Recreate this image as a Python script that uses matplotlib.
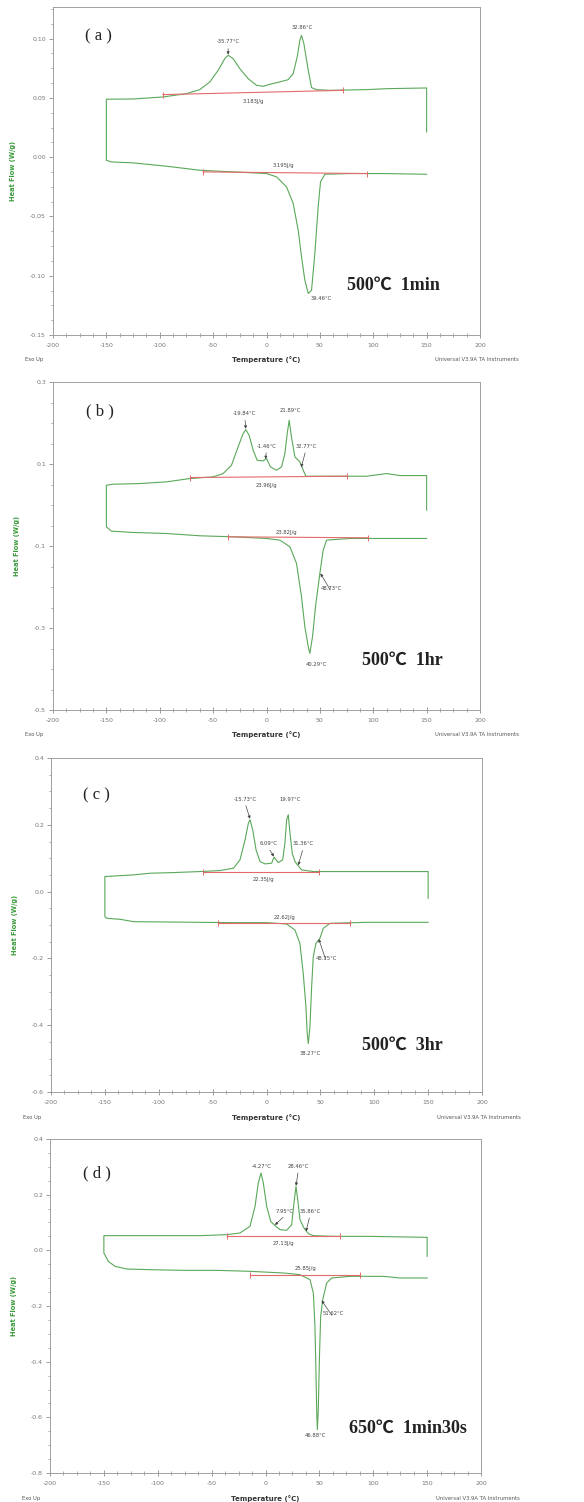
import numpy as np
import matplotlib
matplotlib.use("Agg")
import matplotlib.pyplot as plt
from matplotlib.ticker import MultipleLocator, AutoMinorLocator, FormatStrFormatter

plt.rcParams['font.family'] = ['DejaVu Sans', 'Noto Sans CJK SC']
plt.rcParams['axes.unicode_minus'] = False

# ---------------- DATA (temperature in C, heat flow in W/g) ----------------
# cooling trace, left to right, last point = bottom of the isothermal step at 150 C
a_cool_t = [-150, -125, -96.9, -75, -62.5, -53.1, -45.3, -39.1, -35.9, -31.25, -25, -17.2, -9.4, -3.1,
            3.1, 12.5, 20.3, 25, 28.75, 31.25, 32.8, 35, 39.1, 42.2, 46.9, 59.4, 93.75, 112.5, 150, 150]
a_cool_hf = [0.0489, 0.0491, 0.0508, 0.0536, 0.0570, 0.0635, 0.0733, 0.0831, 0.0860, 0.0831, 0.0747,
             0.0663, 0.0607, 0.0598, 0.0615, 0.0635, 0.0654, 0.0705, 0.0845, 0.0986, 0.1028, 0.0958,
             0.0733, 0.0587, 0.0570, 0.0564, 0.0570, 0.0578, 0.0584, 0.0213]
# heating trace, first point = bottom of the step at -150 C
a_heat_t = [-150, -145.3, -125, -93.75, -62.5, -31.25, 0, 9.4, 18.75, 25, 29.7, 32.8, 35.9, 39.1, 42.2,
            45.3, 48.4, 50.6, 54.7, 78.1, 109.4, 150]
a_heat_hf = [-0.0026, -0.004, -0.0048, -0.0076, -0.011, -0.0124, -0.0138, -0.0166, -0.025, -0.039,
             -0.0616, -0.084, -0.1037, -0.115, -0.1122, -0.0812, -0.0419, -0.0208, -0.0144, -0.0138,
             -0.0138, -0.0144]

b_cool_t = [-150, -143.75, -118.75, -93.75, -71.9, -50, -40.6, -32.8, -26.6, -21.9, -19.4, -16.25, -12.5,
            -8.75, -3.1, 0, 3.75, 9.4, 14.1, 17.2, 19.4, 21.25, 23.4, 26.6, 31.25, 34.4, 36.9, 62.5,
            93.75, 112.5, 125, 150, 150]
b_cool_hf = [0.0482, 0.0507, 0.0523, 0.0564, 0.0645, 0.0686, 0.0767, 0.097, 0.1417, 0.1741, 0.1839,
             0.1701, 0.1335, 0.1092, 0.1076, 0.1132, 0.0929, 0.0848, 0.0929, 0.1254, 0.1741, 0.2066,
             0.166, 0.1173, 0.1051, 0.0848, 0.0702, 0.0702, 0.0702, 0.0767, 0.0718, 0.0718, -0.0126]
b_heat_t = [-150, -145.3, -125, -93.75, -62.5, -31.25, 0, 12.5, 21.9, 28.1, 32.8, 35.9, 39.1, 40.6,
            43.1, 46.25, 50, 53.1, 56.25, 78.1, 109.4, 150]
b_heat_hf = [-0.0532, -0.0638, -0.067, -0.0695, -0.0751, -0.0776, -0.0816, -0.0857, -0.1019, -0.1425,
             -0.2237, -0.2968, -0.3455, -0.3618, -0.3212, -0.24, -0.1669, -0.11, -0.0857, -0.0816,
             -0.0816, -0.0816]

c_cool_t = [-150, -123.4, -108, -86.3, -61.6, -43.1, -30.7, -24.6, -19.9, -16.8, -15.3, -12.8, -9.7, -6.0,
            -1.4, 4.8, 6.9, 11.0, 15.0, 17.1, 18.7, 20.2, 21.8, 23.9, 26.4, 29.5, 32.6, 43.4, 61.9, 150, 150]
c_cool_hf = [0.045, 0.05, 0.055, 0.057, 0.06, 0.063, 0.07, 0.095, 0.155, 0.205, 0.215, 0.185, 0.125, 0.09,
             0.083, 0.085, 0.103, 0.087, 0.095, 0.145, 0.215, 0.23, 0.175, 0.115, 0.09, 0.077, 0.065,
             0.06, 0.06, 0.06, -0.02]
c_heat_t = [-150, -148.1, -135.8, -123.4, -92.5, -61.6, -30.7, 0.2, 18.7, 26.4, 31.0, 34.1, 36.6, 37.8,
            38.8, 40.3, 41.9, 43.4, 45.9, 49.6, 52.7, 58.8, 92.8, 150]
c_heat_hf = [-0.075, -0.08, -0.083, -0.09, -0.091, -0.092, -0.093, -0.093, -0.097, -0.115, -0.155, -0.245,
             -0.345, -0.425, -0.455, -0.405, -0.285, -0.195, -0.155, -0.14, -0.11, -0.095, -0.092, -0.092]

d_cool_t = [-150, -122.7, -91.7, -60.8, -36.0, -23.7, -14.4, -9.7, -6.7, -4.2, -2.0, 1.1, 4.8, 8.8, 13.5,
            19.6, 24.3, 26.4, 28.3, 29.9, 32.0, 35.7, 39.8, 44.4, 63.0, 93.9, 150, 150]
d_cool_hf = [0.0527, 0.0527, 0.0527, 0.0527, 0.0563, 0.0623, 0.0862, 0.1581, 0.2419, 0.2778, 0.2419,
             0.1581, 0.1042, 0.0886, 0.0743, 0.0719, 0.0922, 0.1701, 0.2299, 0.182, 0.1102, 0.0802,
             0.0599, 0.0527, 0.0503, 0.0503, 0.0467, -0.0216]
d_heat_t = [-150, -145.9, -139.7, -128.8, -107.2, -76.3, -45.3, -14.4, 16.6, 32.0, 41.3, 44.4, 45.9, 46.9,
            47.5, 48.1, 49.0, 50.0, 51.2, 53.1, 56.8, 61.4, 78.4, 109.4, 124.8, 150]
d_heat_hf = [-0.0096, -0.0395, -0.0575, -0.0671, -0.0695, -0.0719, -0.0719, -0.0754, -0.0814, -0.0874,
             -0.1054, -0.1533, -0.273, -0.4527, -0.5725, -0.6443, -0.5725, -0.3928, -0.2371, -0.1772,
             -0.1174, -0.0994, -0.0934, -0.0934, -0.0994, -0.0994]

# integration baselines: (t_start, hf_start, t_end, hf_end)
a_base = [(-96.9, 0.0528, 71.9, 0.0564), (-59.4, -0.0124, 93.75, -0.0138)]
b_base = [(-71.25, 0.067, 75, 0.0702), (-35.9, -0.0776, 95.3, -0.080)]
c_base = [(-58.5, 0.060, 49.0, 0.060), (-44.6, -0.093, 77.4, -0.093)]
d_base = [(-36.0, 0.0527, 69.1, 0.0527), (-14.4, -0.0874, 87.7, -0.0874)]

# annotations: text, text position, arrow target (or None)
a_notes = [("-35.77°C", (-36, 0.0972), (-35.9, 0.0865)), ("32.86°C", (33.4, 0.109), None),
           ("39.46°C", (51.6, -0.119), None),
           ("3.183J/g", (-12.5, 0.0466), None), ("3.195J/g", (15.6, -0.0068), None)]
b_notes = [("-19.84°C", (-20.3, 0.2229), (-19.4, 0.186)), ("-1.46°C", (0, 0.1433), (-0.9, 0.112)),
           ("21.89°C", (21.9, 0.231), None), ("32.77°C", (36.9, 0.1433), (32.5, 0.092)),
           ("40.29°C", (46.9, -0.39), None), ("48.73°C", (61, -0.2034), (50.6, -0.167)),
           ("23.96J/g", (0, 0.0483), None), ("23.82J/g", (18.75, -0.0678), None)]
c_notes = [("-15.73°C", (-19.9, 0.277), (-15.3, 0.218)), ("19.97°C", (21.8, 0.277), None),
           ("6.09°C", (1.7, 0.143), (6.9, 0.105)), ("31.36°C", (34.1, 0.143), (29.5, 0.079)),
           ("38.27°C", (40.3, -0.485), None), ("48.75°C", (55.8, -0.20), (48.5, -0.142)),
           ("22.35J/g", (-2.9, 0.035), None), ("22.62J/g", (17.1, -0.077), None)]
d_notes = [("-4.27°C", (-3.6, 0.3018), None), ("28.46°C", (30.5, 0.3018), (28.3, 0.232)),
           ("7.95°C", (18.1, 0.14), (8.8, 0.091)), ("35.86°C", (41.3, 0.14), (37.6, 0.068)),
           ("46.88°C", (46, -0.666), None), ("51.62°C", (63, -0.2275), (52.1, -0.18)),
           ("27.13J/g", (16.6, 0.0263), None), ("25.85J/g", (36.7, -0.067), None)]

panel_tags = ["( a )", "( b )", "( c )", "( d )"]
conditions = ["500℃  1min", "500℃  1hr", "500℃  3hr", "650℃  1min30s"]
y_ticks = [[0.10, 0.05, 0.00, -0.05, -0.10, -0.15],
           [0.3, 0.1, -0.1, -0.3, -0.5],
           [0.4, 0.2, 0.0, -0.2, -0.4, -0.6],
           [0.4, 0.2, 0.0, -0.2, -0.4, -0.6, -0.8]]
y_lims = [(-0.15, 0.1267), (-0.5, 0.3), (-0.6, 0.4), (-0.8, 0.4)]
y_fmt = ['%.2f', '%.1f', '%.1f', '%.1f']

# ---------------- LAYOUT ----------------
W, H = 584, 1502
boxes = [(53, 7, 480, 335), (53, 382, 480, 710), (51, 758, 482, 1092), (50, 1139, 481, 1473)]
tag_pos = [(0.106, 0.909), (0.110, 0.909), (0.106, 0.889), (0.108, 0.898)]
cond_pos = [(0.797, 0.152), (0.818, 0.152), (0.815, 0.141), (0.831, 0.135)]

green = "#5aa85a"
red = "#e36a6a"
grey = "#8a8a8a"

panels = [
    (a_cool_t, a_cool_hf, a_heat_t, a_heat_hf, a_base, a_notes),
    (b_cool_t, b_cool_hf, b_heat_t, b_heat_hf, b_base, b_notes),
    (c_cool_t, c_cool_hf, c_heat_t, c_heat_hf, c_base, c_notes),
    (d_cool_t, d_cool_hf, d_heat_t, d_heat_hf, d_base, d_notes),
]

fig = plt.figure(figsize=(W / 100, H / 100), dpi=100)
fig.patch.set_facecolor("white")

for i, (ct, chf, ht, hhf, bases, notes) in enumerate(panels):
    x0, y0, x1, y1 = boxes[i]
    ax = fig.add_axes([x0 / W, 1 - y1 / H, (x1 - x0) / W, (y1 - y0) / H])

    # one continuous trace: down the 150 C step, cooling leftwards, step at -150 C, heating rightwards
    t = list(ct[::-1]) + list(ht)
    hf = list(chf[::-1]) + list(hhf)
    ax.plot(t, hf, color=green, lw=0.8)

    for (ts, hs, te, he) in bases:
        ax.plot([ts, te], [hs, he], color=red, lw=0.8)
        ax.plot([ts, te], [hs, he], ls='none', marker='|', ms=4, mew=0.7, color=red)

    for txt, (tx, ty), target in notes:
        ax.text(tx, ty, txt, fontsize=3.8, color="#444444", ha='center', va='center')
        if target is not None:
            ax.annotate("", xy=target, xytext=(tx, ty - (y_lims[i][1] - y_lims[i][0]) * 0.012),
                        arrowprops=dict(arrowstyle='-|>', lw=0.5, color="#444444",
                                        mutation_scale=4, shrinkA=2, shrinkB=0))

    ax.set_xlim(-200, 200)
    ax.set_ylim(*y_lims[i])
    ax.xaxis.set_major_locator(MultipleLocator(50))
    ax.xaxis.set_minor_locator(MultipleLocator(12.5))
    ax.set_yticks(y_ticks[i])
    ax.yaxis.set_minor_locator(AutoMinorLocator(4))
    ax.yaxis.set_major_formatter(FormatStrFormatter(y_fmt[i]))
    ax.xaxis.set_major_formatter(FormatStrFormatter('%d'))
    ax.tick_params(axis='x', which='major', direction='inout', length=5, width=0.6,
                   colors=grey, labelsize=4.5, pad=3, labelcolor="#777777")
    ax.tick_params(axis='x', which='minor', direction='inout', length=3, width=0.5, colors=grey)
    ax.tick_params(axis='y', which='major', direction='out', length=3, width=0.6,
                   colors=grey, labelsize=4.5, pad=2, labelcolor="#777777")
    ax.tick_params(axis='y', which='minor', direction='out', length=1.5, width=0.5, colors=grey)
    for s in ax.spines.values():
        s.set_color("#a0a0a0")
        s.set_linewidth(0.7)

    ax.set_ylabel("Heat Flow (W/g)", fontsize=4.8, color="#3a9a3a", fontweight='bold', labelpad=10)
    ax.text(0.5, -0.076, "Temperature (°C)", transform=ax.transAxes, fontsize=5, ha='center',
            va='center', color="#333333", fontweight='bold')
    ax.text(-0.066, -0.076, "Exo Up", transform=ax.transAxes, fontsize=3.8, ha='left',
            va='center', color="#555555")
    ax.text(0.895, -0.076, "Universal V3.9A TA Instruments", transform=ax.transAxes, fontsize=3.8,
            ha='left', va='center', color="#555555", clip_on=False)

    ax.text(*tag_pos[i], panel_tags[i], transform=ax.transAxes, fontsize=12, ha='center',
            va='center', color="#222222", family=['Liberation Serif', 'Noto Sans CJK SC'])
    ax.text(*cond_pos[i], conditions[i], transform=ax.transAxes, fontsize=13, ha='center',
            va='center', color="#222222", fontweight='bold',
            family=['Liberation Serif', 'Noto Sans CJK SC'])

fig.savefig("out.png", dpi=100, facecolor="white")
